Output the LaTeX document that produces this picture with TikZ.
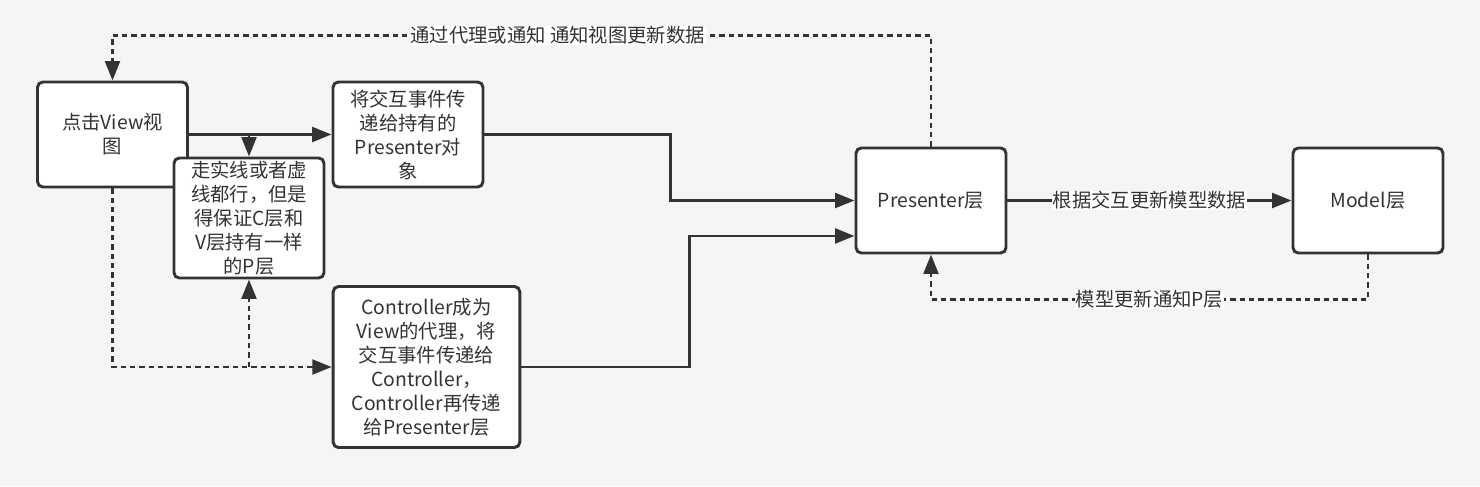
\documentclass[tikz,border=0pt]{standalone}
\usepackage{fontspec}
\newfontfamily\cjk{Noto Sans CJK SC}
\usetikzlibrary{arrows.meta}
\definecolor{bgcol}{RGB}{245,245,245}
\definecolor{ink}{RGB}{51,51,51}

\begin{document}
\begin{tikzpicture}[x=0.75pt,y=-0.75pt,
		box/.style={draw=ink,fill=white,line width=2.2pt,rounded corners=4pt,align=center,text=ink,
			font=\cjk\fontsize{14.5}{18}\selectfont,minimum width=112.5pt,minimum height=78.75pt,inner sep=1pt},
		link/.style={draw=ink,line width=2.2pt,-{Triangle[length=14.5pt,width=11pt]}},
		dotlink/.style={link,dash pattern=on 4pt off 3pt},
		lbl/.style={fill=white,text=ink,font=\cjk\fontsize{14.5}{18}\selectfont,inner sep=0.5pt}]
				\fill[bgcol] (0,0) rectangle (1480,486);
				% boxes
				\node[box] (view) at (112.5,134.5) {点击View视\\图};
				\node[box] (hand) at (408,134.5) {将交互事件传\\递给持有的\\Presenter对\\象};
				\node[box,minimum height=90pt] (note) at (249,218) {走实线或者虚\\线都行，但是\\得保证C层和\\V层持有一样\\的P层};
				\node[box,minimum width=140pt,minimum height=120.75pt] (ctrl) at (426.5,367) {Controller成为\\View的代理，将\\交互事件传递给\\Controller，\\Controller再传递\\给Presenter层};
				\node[box] (pres) at (931,200.5) {Presenter层};
				\node[box] (model) at (1368,200.5) {Model层};
				% solid path
				\draw[link] (view.east) -- (hand.west);
				\draw[link] (note.north |- view.east) -- (note.north);
				\draw[link] (hand.east) -- ++(186,0) |- (pres.west);
				\draw[link] (ctrl.east) -- ++(168,0) |- ([yshift=-26.6pt]pres.west);
				\draw[link] (pres.east) -- node[lbl] {根据交互更新模型数据} (model.west);
				% dotted path
				\draw[dotlink] (view.south) |- (ctrl.west);
				\draw[dotlink] (note.south |- ctrl.west) -- (note.south);
				\draw[dotlink] (pres.north) -- ++(0,-111) -| node[lbl,pos=0.228] {通过代理或通知 通知视图更新数据} (view.north);
				\draw[dotlink] (model.south) -- ++(0,45) -| node[lbl,pos=0.25] {模型更新通知P层} (pres.south);
			\end{tikzpicture}
\end{document}
